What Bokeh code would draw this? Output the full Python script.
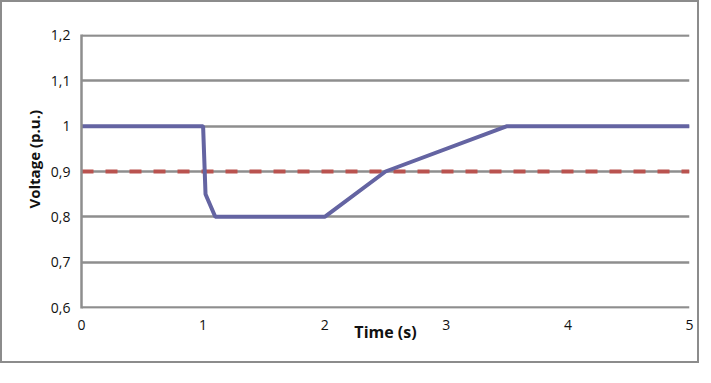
from bokeh.plotting import figure
from bokeh.models import FixedTicker, Range1d, Title
from bokeh.embed import file_html
from bokeh.resources import INLINE

# Data
time_s = [0.0, 1.0, 1.02, 1.1, 2.0, 2.5, 3.5, 5.0]
voltage_pu = [1.0, 1.0, 0.85, 0.8, 0.8, 0.9, 1.0, 1.0]
limit_time = [0.0, 5.0]
limit_pu = [0.9, 0.9]

y_ticks = [0.6, 0.7, 0.8, 0.9, 1.0, 1.1, 1.2]
y_tick_labels = ["0,6", "0,7", "0,8", "0,9", "1", "1,1", "1,2"]
x_ticks = [0, 1, 2, 3, 4, 5]

FONT = "Open Sans"
GRID = "#8e8e8e"
TEXT = "#111111"

p = figure(width=699, height=363, output_backend="svg", toolbar_location=None,
           x_range=Range1d(0, 5), y_range=Range1d(0.5978, 1.2022),
           min_border_left=79, min_border_right=12, min_border_top=32, min_border_bottom=57,
           background_fill_color="white", border_fill_color="white")
p.styles = {"border": "2px solid #8c8c8c"}
p.outline_line_color = None

p.xgrid.grid_line_color = None
p.ygrid.grid_line_color = GRID
p.ygrid.grid_line_width = 2.5
p.ygrid.ticker = FixedTicker(ticks=y_ticks)

p.yaxis.ticker = FixedTicker(ticks=y_ticks)
p.yaxis.major_label_overrides = {t: l for t, l in zip(y_ticks, y_tick_labels)}
p.xaxis.ticker = FixedTicker(ticks=x_ticks)

for ax in (p.xaxis[0], p.yaxis[0]):
    ax.major_tick_line_color = None
    ax.minor_tick_line_color = None
    ax.major_label_text_font = FONT
    ax.major_label_text_font_size = "14px"
    ax.major_label_text_color = TEXT
    ax.axis_label_text_font = FONT
    ax.axis_label_text_font_style = "bold"
    ax.axis_label_text_color = TEXT

p.xaxis.axis_line_color = None
p.yaxis.axis_line_color = GRID
p.yaxis.axis_line_width = 2.5
p.xaxis.major_label_standoff = 5
p.yaxis.major_label_standoff = 5
p.xaxis.axis_label = "Time (s)"
p.xaxis.axis_label_text_font_size = "16px"
p.xaxis.axis_label_standoff = -12

ytitle = Title(text="Voltage (p.u.)", align="left", offset=100,
               text_font=FONT, text_font_style="bold", text_font_size="15px",
               text_color=TEXT, standoff=8)
p.add_layout(ytitle, "left")

p.line(limit_time, limit_pu, line_color="#b9534f", line_width=4, line_dash="12 12")
p.line(time_s, voltage_pu, line_color="#6464a2", line_width=4)

open("out.html", "w").write(file_html(p, INLINE))
